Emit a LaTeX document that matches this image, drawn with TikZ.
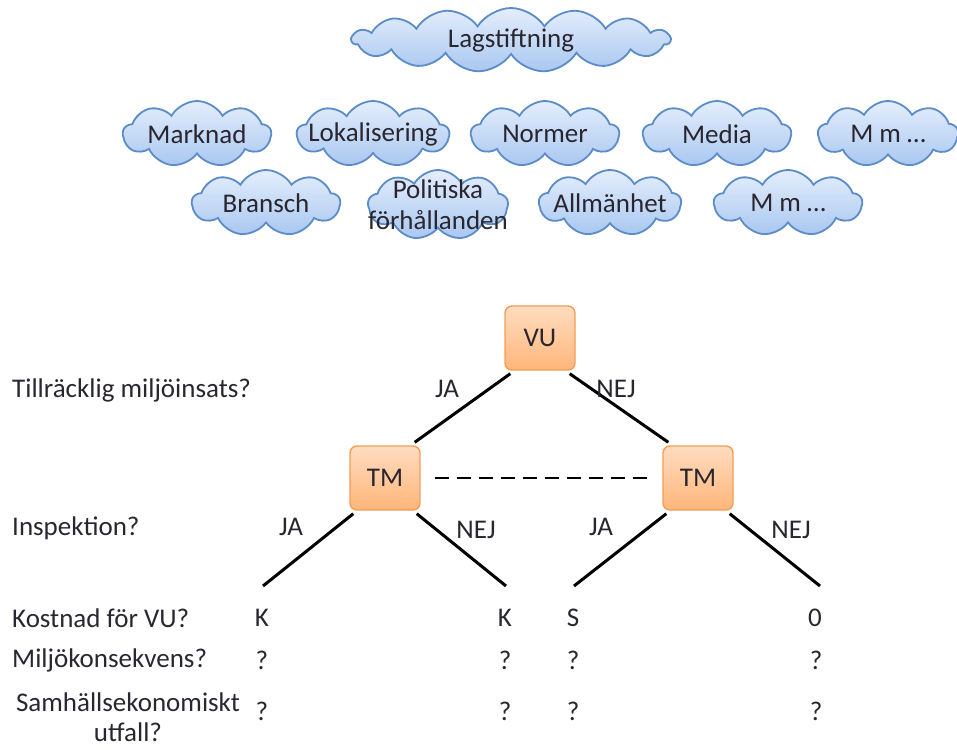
\documentclass[tikz,border=0pt]{standalone}
\usepackage{fontspec}
\setmainfont{Carlito}
\usetikzlibrary{shapes.symbols}
\definecolor{cloudline}{HTML}{5B8CC8}
\definecolor{cloudtop}{HTML}{E4EEFC}
\definecolor{cloudbot}{HTML}{A9C7F0}
\definecolor{boxline}{HTML}{F59D56}
\definecolor{boxtop}{HTML}{FFDCC0}
\definecolor{boxbot}{HTML}{FFB67A}
\definecolor{txt}{HTML}{2A2630}
\tikzset{
  puff/.style={cloud, cloud puffs=9, cloud puff arc=120, cloud ignores aspect,
    draw=cloudline, line width=1.8pt, top color=cloudtop, bottom color=cloudbot,
    minimum width=148pt, minimum height=66pt, inner sep=0pt,
    label={[pufftext]center:{#1}}},
  pufftext/.style={text=txt, font=\fontsize{27}{31}\selectfont, align=center, inner sep=0pt},
  decision/.style={draw=boxline, line width=1.4pt, rounded corners=7pt,
    top color=boxtop, bottom color=boxbot, minimum width=70pt, minimum height=64pt,
    text=txt, font=\fontsize{27}{30}\selectfont},
  branch/.style={line width=3pt, black},
  lbl/.style={text=txt, font=\fontsize{27}{31}\selectfont, inner sep=0pt},
  qlbl/.style={lbl, anchor=west}
}
\begin{document}
\begin{tikzpicture}[x=1pt, y=-1pt]
\useasboundingbox (0,0) rectangle (957,749);
% influencing factors
\node[puff=Lagstiftning, minimum width=318pt, minimum height=64pt, cloud puffs=15, cloud puff arc=115] (lag) at (511,40) {};
\node[puff=Marknad] (marknad) at (197,134) {};
\node[puff=Lokalisering, minimum width=152pt] (lokal) at (373,134) {};
\node[puff=Normer] (normer) at (545,134) {};
\node[puff=Media] (media) at (717,134) {};
\node[puff={M m …}, minimum width=140pt] (mm1) at (888,134) {};
\node[puff=Bransch] (bransch) at (266,203) {};
\node[puff={Politiska\\förhållanden}, minimum width=140pt, minimum height=70pt] (polit) at (438,205) {};
\node[puff=Allmänhet, minimum width=142pt] (allm) at (610,203) {};
\node[puff={M m …}] (mm2) at (788,203) {};
% decision tree
\node[decision] (vu) at (540,338) {VU};
\node[decision] (tml) at (385,478) {TM};
\node[decision] (tmr) at (698,478) {TM};
\coordinate (l1) at (263,586);
\coordinate (l2) at (506,586);
\coordinate (l3) at (574,586);
\coordinate (l4) at (820,586);
\draw[branch] ([shift={(6pt,-3pt)}]vu.south west) -- ([shift={(-6pt,3pt)}]tml.north east);
\draw[branch] ([shift={(-6pt,-3pt)}]vu.south east) -- ([shift={(6pt,3pt)}]tmr.north west);
\draw[branch] ([shift={(4pt,-3pt)}]tml.south west) -- (l1);
\draw[branch] ([shift={(-4pt,-3pt)}]tml.south east) -- (l2);
\draw[branch] ([shift={(4pt,-3pt)}]tmr.south west) -- (l3);
\draw[branch] ([shift={(-4pt,-3pt)}]tmr.south east) -- (l4);
\draw[line width=2pt, dash pattern=on 14pt off 8pt] ([xshift=14pt]tml.east) -- ([xshift=-10pt]tmr.west);
% branch labels
\node[lbl] (ja1) at (447,389) {JA};
\node[lbl] (nej1) at (616,389) {NEJ};
\node[lbl] (ja2) at (291,527) {JA};
\node[lbl] (nej2) at (476,530) {NEJ};
\node[lbl] (ja3) at (601,527) {JA};
\node[lbl] (nej3) at (791,530) {NEJ};
% questions
\node[qlbl] (q1) at (12,390) {Tillräcklig miljöinsats?};
\node[qlbl] (q2) at (12,528) {Inspektion?};
\node[qlbl] (q3) at (12,618) {Kostnad för VU?};
\node[qlbl] (q4) at (12,660) {Miljökonsekvens?};
\node[lbl, align=center, font=\fontsize{27}{30}\selectfont] (q5) at (128,717) {Samhällsekonomiskt\\utfall?};
% outcomes
\node[lbl] (k1) at (262,618) {K};
\node[lbl] (k2) at (505,618) {K};
\node[lbl] (s3) at (573,618) {S};
\node[lbl] (z4) at (815,618) {0};
\foreach \x/\n in {262/a,505/b,573/c,816/d}{
  \node[lbl] (m\n) at (\x,660) {?};
  \node[lbl] (e\n) at (\x,711) {?};
}
\end{tikzpicture}
\end{document}
